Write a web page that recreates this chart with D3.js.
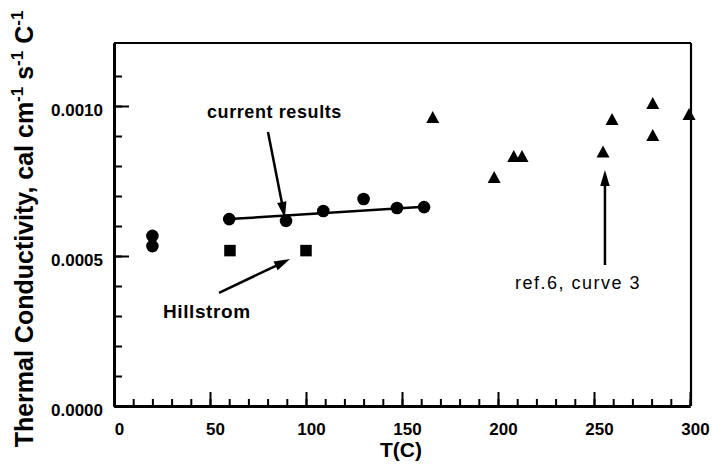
<!DOCTYPE html>
<html>
<head>
<meta charset="utf-8">
<script src="https://cdn.jsdelivr.net/npm/d3@7"></script>
<style>
  html, body { margin: 0; padding: 0; background: #fff; }
  svg { display: block; }
  text { font-family: "Liberation Sans", Arial, Helvetica, sans-serif; fill: #000; }
</style>
</head>
<body>
<svg id="chart" width="714" height="468"></svg>
<script>
// Thermal conductivity vs temperature
const tempCurrent = [20, 20, 60, 89.6, 109, 130, 147.4, 161.5];
const kCurrent    = [0.000567, 0.000533, 0.000623, 0.000617, 0.00065, 0.00069, 0.00066, 0.000663];

const tempHillstrom = [60.4, 100];
const kHillstrom    = [0.000518, 0.000518];

const tempRef6 = [166, 198, 208.2, 212.5, 254.7, 259.4, 280.6, 280.6, 299.5];
const kRef6    = [0.000963, 0.000763, 0.000833, 0.000833, 0.000848, 0.000957, 0.00101, 0.000903, 0.000973];

// linear fit through the current results
const fitT = [60, 161.5];
const fitK = [0.000623, 0.000664];

const xMajor = [0, 50, 100, 150, 200, 250, 300];
const xMinor = d3.range(0, 301, 10);
const yMajor = [0, 0.0005, 0.0010];
const yMinor = d3.range(0, 12).map(i => i * 0.0001);

const svg = d3.select("#chart");
const plotLeft = 114, plotRight = 690, plotTop = 43, plotBottom = 406;

const x = d3.scaleLinear().domain([0, 300]).range([plotLeft, plotRight]);
const y = d3.scaleLinear().domain([0, 0.00121]).range([plotBottom, plotTop]);

// frame: top and right edges
svg.append("line").attr("x1", plotLeft).attr("x2", plotRight + 1).attr("y1", plotTop).attr("y2", plotTop)
  .attr("stroke", "#000").attr("stroke-width", 2.2);
svg.append("line").attr("x1", plotRight + 1).attr("x2", plotRight + 1).attr("y1", plotTop).attr("y2", plotBottom)
  .attr("stroke", "#000").attr("stroke-width", 2.2);

// bottom axis: minor and major ticks pointing into the plot
const gxMinor = svg.append("g").attr("transform", `translate(0,${plotBottom})`)
  .call(d3.axisBottom(x).tickValues(xMinor).tickSize(-7).tickSizeOuter(0).tickFormat(""));
const gx = svg.append("g").attr("transform", `translate(0,${plotBottom})`)
  .call(d3.axisBottom(x).tickValues(xMajor).tickSize(-14).tickSizeOuter(0).tickPadding(17).tickFormat(d3.format("d")));

// left axis
const gyMinor = svg.append("g").attr("transform", `translate(${plotLeft},0)`)
  .call(d3.axisLeft(y).tickValues(yMinor).tickSize(-8).tickSizeOuter(0).tickFormat(""));
const gy = svg.append("g").attr("transform", `translate(${plotLeft},0)`)
  .call(d3.axisLeft(y).tickValues(yMajor).tickSize(-15).tickSizeOuter(0).tickPadding(11).tickFormat(d3.format(".4f")));

[gxMinor, gx, gyMinor, gy].forEach(g => {
  g.selectAll(".domain").attr("stroke", "#000").attr("stroke-width", 3);
  g.selectAll(".tick line").attr("stroke", "#000").attr("stroke-width", 2);
});
gx.selectAll("text").attr("x", 5)
  .style("font-size", "17px").style("font-weight", "bold");
gy.selectAll("text").attr("dy", "0.55em")
  .style("font-size", "17px").style("font-weight", "bold");

// axis titles
svg.append("text").attr("x", 401).attr("y", 457).attr("text-anchor", "middle")
  .style("font-size", "21px").style("font-weight", "bold").text("T(C)");

const yTitle = svg.append("text")
  .attr("transform", "translate(33,229) rotate(-90)")
  .attr("text-anchor", "middle")
  .style("font-size", "25px").style("font-weight", "bold");
yTitle.append("tspan").text("Thermal Conductivity, cal cm");
yTitle.append("tspan").attr("dy", -10).style("font-size", "17px").text("-1");
yTitle.append("tspan").attr("dy", 10).text(" s");
yTitle.append("tspan").attr("dy", -10).style("font-size", "17px").text("-1");
yTitle.append("tspan").attr("dy", 10).text(" C");
yTitle.append("tspan").attr("dy", -10).style("font-size", "17px").text("-1");

// fit line
svg.append("path")
  .datum(fitT.map((t, i) => [t, fitK[i]]))
  .attr("d", d3.line().x(d => x(d[0])).y(d => y(d[1])))
  .attr("fill", "none").attr("stroke", "#000").attr("stroke-width", 2.5);

// current results: filled circles
svg.append("g").selectAll("circle")
  .data(tempCurrent.map((t, i) => [t, kCurrent[i]]))
  .join("circle")
  .attr("cx", d => x(d[0])).attr("cy", d => y(d[1])).attr("r", 6.3)
  .attr("fill", "#000");

// Hillstrom: filled squares
const sq = 11.5;
svg.append("g").selectAll("rect")
  .data(tempHillstrom.map((t, i) => [t, kHillstrom[i]]))
  .join("rect")
  .attr("x", d => x(d[0]) - sq / 2).attr("y", d => y(d[1]) - sq / 2)
  .attr("width", sq).attr("height", sq).attr("fill", "#000");

// ref.6, curve 3: filled triangles
const triH = 12, triW = 13;
svg.append("g").selectAll("path")
  .data(tempRef6.map((t, i) => [t, kRef6[i]]))
  .join("path")
  .attr("d", d => {
    const cx = x(d[0]), cy = y(d[1]);
    return `M${cx},${cy - triH / 2}L${cx + triW / 2},${cy + triH / 2}L${cx - triW / 2},${cy + triH / 2}Z`;
  })
  .attr("fill", "#000");

// annotation arrows (data coordinates: tail -> tip)
function arrow(t0, k0, t1, k1) {
  const x0 = x(t0), y0 = y(k0), x1 = x(t1), y1 = y(k1);
  const len = Math.hypot(x1 - x0, y1 - y0);
  const ux = (x1 - x0) / len, uy = (y1 - y0) / len;
  const headL = 16, headW = 9.5;
  const bx = x1 - ux * headL, by = y1 - uy * headL;
  svg.append("line").attr("x1", x0).attr("y1", y0).attr("x2", bx + ux * 2).attr("y2", by + uy * 2)
    .attr("stroke", "#000").attr("stroke-width", 2.5);
  svg.append("path")
    .attr("d", `M${x1},${y1}L${bx - uy * headW / 2},${by + ux * headW / 2}L${bx + uy * headW / 2},${by - ux * headW / 2}Z`)
    .attr("fill", "#000");
}
arrow(80.2, 0.000913, 89, 0.000627);
arrow(54.7, 0.000377, 91.7, 0.00049);
arrow(255.7, 0.00047, 255.7, 0.000787);

// annotation labels
svg.append("text").attr("x", x(48.4)).attr("y", y(0.00096))
  .style("font-size", "18px").style("font-weight", "bold").style("letter-spacing", "0.6px")
  .text("current results");
svg.append("text").attr("x", x(25.5)).attr("y", y(0.000293))
  .style("font-size", "19px").style("font-weight", "bold").style("letter-spacing", "0.6px")
  .text("Hillstrom");
svg.append("text").attr("x", x(208.9)).attr("y", y(0.00039))
  .style("font-size", "18px").style("letter-spacing", "1.5px")
  .text("ref.6, curve 3");
</script>
</body>
</html>
